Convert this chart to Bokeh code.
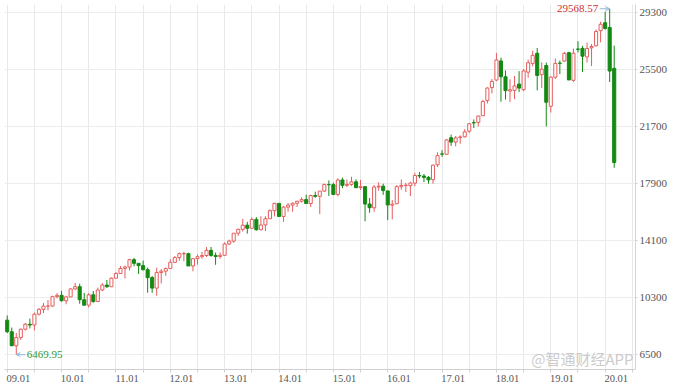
from bokeh.plotting import figure
from bokeh.models import FixedTicker, Range1d, Label, Arrow, OpenHead, ColumnDataSource
from bokeh.embed import file_html
from bokeh.resources import INLINE
from bokeh.core.properties import value

# Monthly candles, 2009.01 - 2020.03
year_ticks_labels = ["09.01", "10.01", "11.01", "12.01", "13.01", "14.01",
                     "15.01", "16.01", "17.01", "18.01", "19.01", "20.01"]
y_tick_values = [6500, 10300, 14100, 17900, 21700, 25500, 29300]

opens = [
    8772, 8000, 7057, 7609, 8168, 8500, 8447, 9172, 9496, 9712, 9713, 10345,
    10430, 10068, 10326, 10857, 11009, 10137, 9774, 10466, 10016, 10789, 11120, 11006,
    11577, 11892, 12226, 12320, 12811, 12570, 12414, 12143, 11614, 10913, 11955, 12046,
    12221, 12632, 12952, 13212, 13214, 12393, 12880, 13009, 13091, 13437, 13096, 13027,
    13104, 13861, 14054, 14580, 14840, 15116, 14911, 15500, 14810, 15133, 15546, 16086,
    16572, 15698, 16321, 16458, 16581, 16716, 16827, 16561, 17099, 17043, 17391, 17827,
    17823, 17169, 18135, 17778, 17842, 18012, 17625, 17690, 16528, 16278, 17664, 17719,
    17405, 16451, 16546, 17686, 17774, 17755, 17925, 18435, 18400, 18308, 18158, 19149,
    19873, 19849, 20958, 20665, 20963, 21018, 21392, 21961, 21982, 22423, 23442, 24306,
    24809, 26084, 25025, 24076, 24118, 24542, 24161, 25334, 25917, 26598, 25169, 25779,
    23059, 24999, 25935, 26076, 26640, 24790, 26880, 26925, 26355, 26963, 27094, 28109,
    28639, 28320, 25591,
]
highs = [
    9088, 8280, 7925, 8221, 8588, 8878, 9286, 9580, 9918, 10119, 10406, 10580,
    10729, 10404, 10907, 11258, 11205, 10594, 10590, 10720, 10948, 11245, 11452, 11625,
    11980, 12391, 12419, 12876, 12929, 12570, 12753, 12284, 11717, 12284, 12188, 12292,
    12842, 13055, 13289, 13338, 13279, 12898, 13159, 13331, 13653, 13662, 13290, 13300,
    13970, 14150, 14586, 14888, 15542, 15340, 15634, 15658, 15710, 15721, 16175, 16589,
    16589, 16398, 16588, 16631, 16736, 16978, 17152, 17153, 17350, 17395, 17895, 18103,
    17952, 18244, 18288, 18176, 18352, 18181, 18138, 17721, 16934, 17799, 17978, 17889,
    17405, 16795, 17790, 18168, 17934, 18017, 18622, 18668, 18534, 18399, 19156, 19988,
    20126, 20851, 21169, 21071, 21113, 21535, 21929, 22179, 22420, 23486, 24328, 24876,
    26617, 26306, 25449, 24858, 25087, 25403, 25538, 26168, 26770, 26952, 25980, 25980,
    25056, 26242, 26110, 26696, 26695, 26907, 27398, 27091, 27306, 27220, 28175, 28701,
    29374, 29568.57, 27102,
]
lows = [
    7909, 7050, 6469.95, 7450, 8087, 8222, 8087, 9080, 9250, 9430, 9678, 10235,
    10026, 9835, 10326, 10800, 9870, 9757, 9614, 9936, 10016, 10710, 10929, 11006,
    11574, 11892, 11555, 12093, 12364, 11862, 12093, 10604, 10597, 10404, 11231, 11735,
    12221, 12632, 12743, 12710, 12391, 12035, 12492, 12877, 12978, 13012, 12471, 12883,
    13104, 13784, 13937, 14398, 14688, 14551, 14860, 14760, 14777, 14719, 15537, 15703,
    15699, 15340, 16017, 16015, 16333, 16632, 16563, 16334, 16945, 15855, 17331, 17068,
    17136, 17038, 17585, 17664, 17736, 17596, 17465, 15370, 15943, 16013, 17420, 17139,
    15451, 15503, 16546, 17484, 17331, 17063, 17713, 18247, 17992, 17884, 17884, 19002,
    19678, 19831, 20412, 20380, 20554, 20972, 21279, 21600, 21709, 22416, 23242, 23921,
    24741, 23360, 23509, 23344, 23531, 23998, 24077, 24965, 25730, 24122, 24268, 21713,
    22639, 24877, 25208, 26039, 24814, 24681, 26648, 25339, 25979, 25744, 27048, 27325,
    28170, 24681, 18950,
]
closes = [
    8001, 7063, 7609, 8168, 8500, 8447, 9172, 9496, 9712, 9713, 10345, 10428,
    10067, 10325, 10857, 11009, 10137, 9774, 10466, 10015, 10788, 11118, 11006, 11578,
    11892, 12226, 12320, 12811, 12570, 12414, 12143, 11614, 10913, 11955, 12046, 12218,
    12633, 12952, 13212, 13214, 12393, 12880, 13009, 13091, 13437, 13096, 13026, 13104,
    13861, 14054, 14579, 14840, 15116, 14910, 15500, 14810, 15130, 15546, 16086, 16577,
    15699, 16322, 16458, 16581, 16717, 16827, 16563, 17098, 17043, 17391, 17828, 17823,
    17165, 18133, 17776, 17841, 18011, 17620, 17690, 16528, 16285, 17664, 17720, 17425,
    16466, 16517, 17685, 17774, 17787, 17930, 18432, 18401, 18308, 18142, 19124, 19763,
    19864, 20812, 20663, 20941, 21009, 21350, 21891, 21948, 22405, 23377, 24272, 24719,
    26149, 25029, 24103, 24163, 24416, 24271, 25415, 25965, 26458, 25116, 25538, 23327,
    25000, 25916, 25929, 26593, 24815, 26600, 26864, 26403, 26917, 27046, 28051, 28538,
    28256, 25409, 19300,
]

RED = "#e55d5d"
GREEN = "#138a13"
FONT = "Liberation Sans Narrow"

n = len(opens)
idx = list(range(n))
up = [c >= o for o, c in zip(opens, closes)]
colors = [RED if u else GREEN for u in up]
fills = ["#ffffff" if u else GREEN for u in up]
tops = [max(o, c) for o, c in zip(opens, closes)]
bottoms = [min(o, c) for o, c in zip(opens, closes)]

src = ColumnDataSource(dict(x=idx, o=opens, h=highs, l=lows, c=closes,
                            top=tops, bottom=bottoms, color=colors, fill=fills))

p = figure(frame_width=631, frame_height=365, output_backend="svg",
           toolbar_location=None, x_axis_location="below", y_axis_location="right",
           x_range=Range1d(-0.6, 138.7), y_range=Range1d(5478, 29854),
           min_border_left=4, min_border_top=4, min_border_bottom=21, min_border_right=46,
           outline_line_color=None, background_fill_color="#ffffff",
           border_fill_color="#ffffff")

# grid
p.xgrid.ticker = FixedTicker(ticks=list(range(0, n + 6, 6)))
p.ygrid.ticker = FixedTicker(ticks=y_tick_values)
p.xgrid.grid_line_color = "#e8e8e8"
p.ygrid.grid_line_color = "#ececec"

# x axis: labels sit just right of each January tick
xa = p.xaxis[0]
label_pos = [12 * k + 2.45 for k in range(len(year_ticks_labels))]
xa.ticker = FixedTicker(ticks=label_pos, minor_ticks=list(range(0, n + 6, 6)))
xa.major_label_overrides = {t: lab for t, lab in zip(label_pos, year_ticks_labels)}
xa.major_label_text_font = FONT
xa.major_label_text_font_size = "10.5px"
xa.major_label_text_color = "#555555"
xa.axis_line_color = "#cfcfcf"
xa.major_tick_line_color = None
xa.minor_tick_line_color = "#d0d0d0"
xa.minor_tick_out = 3
xa.minor_tick_in = 0
xa.major_tick_out = 3
xa.major_label_standoff = 2

# y axis
ya = p.yaxis[0]
ya.ticker = FixedTicker(ticks=y_tick_values)
ya.major_label_text_font = FONT
ya.major_label_text_font_size = "11px"
ya.major_label_text_color = "#555555"
ya.axis_line_color = "#d5d5d5"
ya.major_tick_line_color = "#d5d5d5"
ya.major_tick_out = 2
ya.major_tick_in = 0
ya.minor_tick_line_color = None
ya.major_label_standoff = 2

# candles
p.segment(x0="x", y0="h", x1="x", y1="l", color="color", line_width=1, source=src)
p.vbar(x="x", width=0.68, top="top", bottom="bottom", fill_color="fill",
       line_color="color", line_width=1, source=src)

# max / min annotations
i_hi = max(idx, key=lambda i: highs[i])
i_lo = min(idx, key=lambda i: lows[i])
hi_v = highs[i_hi]
lo_v = lows[i_lo]
ARROW = "#8fb8dc"
p.add_layout(Arrow(x_start=i_hi - 2.2, y_start=hi_v, x_end=i_hi, y_end=hi_v,
                   line_color=ARROW, line_width=1,
                   end=OpenHead(size=4, line_color=ARROW, line_width=1)))
p.add_layout(Arrow(x_start=i_lo + 2.0, y_start=lo_v, x_end=i_lo, y_end=lo_v,
                   line_color=ARROW, line_width=1,
                   end=OpenHead(size=4, line_color=ARROW, line_width=1)))
p.text(x=[i_hi - 2.3], y=[hi_v], text=[f"{hi_v:.2f}"], text_align="right",
       text_baseline="middle", text_font=value(FONT), text_font_size="11px",
       text_color="#cc3333", x_offset=-1)
p.text(x=[i_lo + 2.1], y=[lo_v], text=[f"{lo_v:.2f}"], text_align="left",
       text_baseline="middle", text_font=value(FONT), text_font_size="11px",
       text_color="#2f9a2f", x_offset=1)

# watermark (kept inside the plot frame, bottom-right)
p.add_layout(Label(x=629, y=1, x_units="screen", y_units="screen",
                   text="@智通财经APP", text_font="Noto Sans CJK SC",
                   text_align="right", text_baseline="bottom",
                   text_font_size="15px", text_color="#c2c2c2", text_alpha=0.85))

open("out.html", "w").write(file_html(p, INLINE))
